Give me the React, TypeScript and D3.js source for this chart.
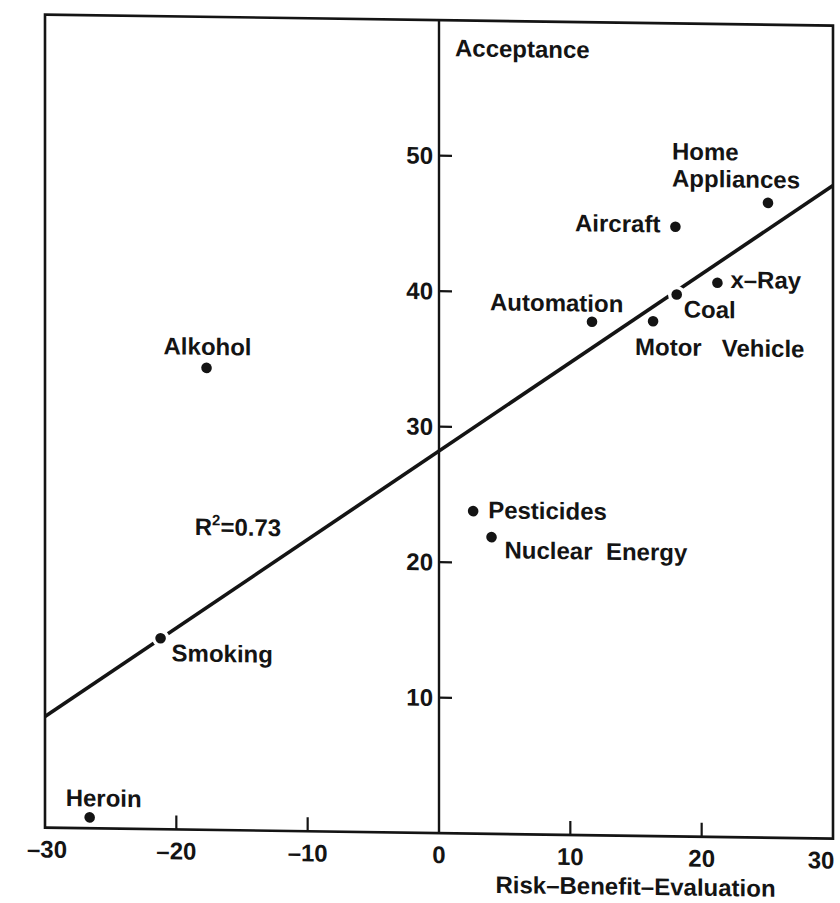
import React from "react";
import * as d3 from "d3";

// ---- data ----
const hazards = [
  "Heroin",
  "Smoking",
  "Alkohol",
  "Pesticides",
  "Nuclear Energy",
  "Automation",
  "Motor Vehicle",
  "Coal",
  "Aircraft",
  "x-Ray",
  "Home Appliances",
];
const riskBenefit = [-26.6, -21.2, -17.7, 2.6, 4.0, 11.65, 16.3, 18.1, 18.0, 21.2, 25.05];
const acceptance = [0.8, 14.1, 34.1, 23.8, 21.9, 37.9, 38.0, 40.0, 45.0, 40.9, 46.85];

const fitX = [-30, 30];
const fitY = [8.2, 48.2];
const rSquared = "0.73";
const rSquaredAt = [-18.6, 21.75];

const xTicks = [-30, -20, -10, 0, 10, 20, 30];
const xTickMarks = [-20, -10, 10, 20];
const yTicks = [10, 20, 30, 40, 50];
const xTitle = "Risk\u2013Benefit\u2013Evaluation";
const yTitle = "Acceptance";

// ---- label placement (layout, not data) ----
type Lab = { lines: string[]; anchor: "start" | "middle" | "end"; dx: number; dy: number[] };
const labelLayout: Record<string, Lab> = {
  "Heroin": { lines: ["Heroin"], anchor: "start", dx: -24, dy: [-11] },
  "Smoking": { lines: ["Smoking"], anchor: "start", dx: 11, dy: [23] },
  "Alkohol": { lines: ["Alkohol"], anchor: "middle", dx: 1, dy: [-13] },
  "Pesticides": { lines: ["Pesticides"], anchor: "start", dx: 15, dy: [7] },
  "Nuclear Energy": { lines: ["Nuclear\u00A0\u00A0Energy"], anchor: "start", dx: 13, dy: [21] },
  "Automation": { lines: ["Automation"], anchor: "start", dx: -102, dy: [-10] },
  "Motor Vehicle": { lines: ["Motor\u00A0\u00A0\u00A0Vehicle"], anchor: "start", dx: -18, dy: [34] },
  "Coal": { lines: ["Coal"], anchor: "start", dx: 7, dy: [23] },
  "Aircraft": { lines: ["Aircraft"], anchor: "end", dx: -15, dy: [6] },
  "x-Ray": { lines: ["x\u2013Ray"], anchor: "start", dx: 13, dy: [5] },
  "Home Appliances": { lines: ["Home", "Appliances"], anchor: "start", dx: -96, dy: [-42, -15] },
};

const W = 840;
const H = 903;
const FONT = "'Liberation Sans', Arial, Helvetica, sans-serif";
const INK = "#141414";

export default function App() {
  const x = d3.scaleLinear().domain([-30, 30]).range([45, 833]);
  const y = d3.scaleLinear().domain([0, 60]).range([827, 14]);
  const x0 = x(0);
  const y0 = y(0);
  const line = d3
    .line<number>()
    .x((d) => x(d))
    .y((_, i) => y(fitY[i]));

  const txt = {
    fontFamily: FONT,
    fontWeight: 700 as const,
    fontSize: 24,
    fill: INK,
  };

  const xLabelShift = (t: number) => (t === -30 ? 2 : t === 30 ? -12 : 0);

  return (
    <svg
      width={W}
      height={H}
      viewBox={`0 0 ${W} ${H}`}
      style={{ position: "absolute", left: 0, top: 0, background: "#fff" }}
    >
      <rect x={0} y={0} width={W} height={H} fill="#fff" />
      <g transform="skewY(0.8)">
        {/* frame */}
        <rect
          x={x(-30)}
          y={y(60)}
          width={x(30) - x(-30)}
          height={y(0) - y(60)}
          fill="none"
          stroke={INK}
          strokeWidth={2.6}
        />
        {/* y axis */}
        <line x1={x0} x2={x0} y1={y(0)} y2={y(60)} stroke={INK} strokeWidth={2.4} />
        {yTicks.map((t) => (
          <g key={"yt" + t}>
            <line x1={x0} x2={x0 + 13} y1={y(t)} y2={y(t)} stroke={INK} strokeWidth={2.2} />
            <text {...txt} x={x0 - 6} y={y(t)} dy="0.35em" textAnchor="end">
              {t}
            </text>
          </g>
        ))}
        <text {...txt} x={x0 + 16} y={y(60) + 36}>
          {yTitle}
        </text>

        {/* x axis ticks */}
        {xTickMarks.map((t) => (
          <line key={"xm" + t} x1={x(t)} x2={x(t)} y1={y0} y2={y0 - 14} stroke={INK} strokeWidth={2.2} />
        ))}
        {xTicks.map((t) => (
          <text key={"xt" + t} {...txt} x={x(t) + xLabelShift(t)} y={y0 + 30} textAnchor="middle">
            {t < 0 ? "\u2013" + Math.abs(t) : String(t)}
          </text>
        ))}
        <text {...txt} x={x(4.3)} y={y0 + 59} textAnchor="start">
          {xTitle}
        </text>

        {/* regression line */}
        <path d={line(fitX) || ""} fill="none" stroke={INK} strokeWidth={3.6} />
        <text {...txt} x={x(rSquaredAt[0])} y={y(rSquaredAt[1])}>
          R
          <tspan fontSize={15} dy={-10}>
            2
          </tspan>
          <tspan dy={10}>={rSquared}</tspan>
        </text>

        {/* points */}
        {hazards.map((h, i) => (
          <circle
            key={"p" + h}
            cx={x(riskBenefit[i])}
            cy={y(acceptance[i])}
            r={5.3}
            fill={INK}
            stroke="#fff"
            strokeWidth={7}
            paintOrder="stroke"
          />
        ))}
        {hazards.map((h, i) => {
          const L = labelLayout[h];
          return (
            <g key={"l" + h}>
              {L.lines.map((s, j) => (
                <text
                  key={j}
                  {...txt}
                  x={x(riskBenefit[i]) + L.dx}
                  y={y(acceptance[i]) + L.dy[j]}
                  textAnchor={L.anchor}
                >
                  {s}
                </text>
              ))}
            </g>
          );
        })}
      </g>
    </svg>
  );
}
